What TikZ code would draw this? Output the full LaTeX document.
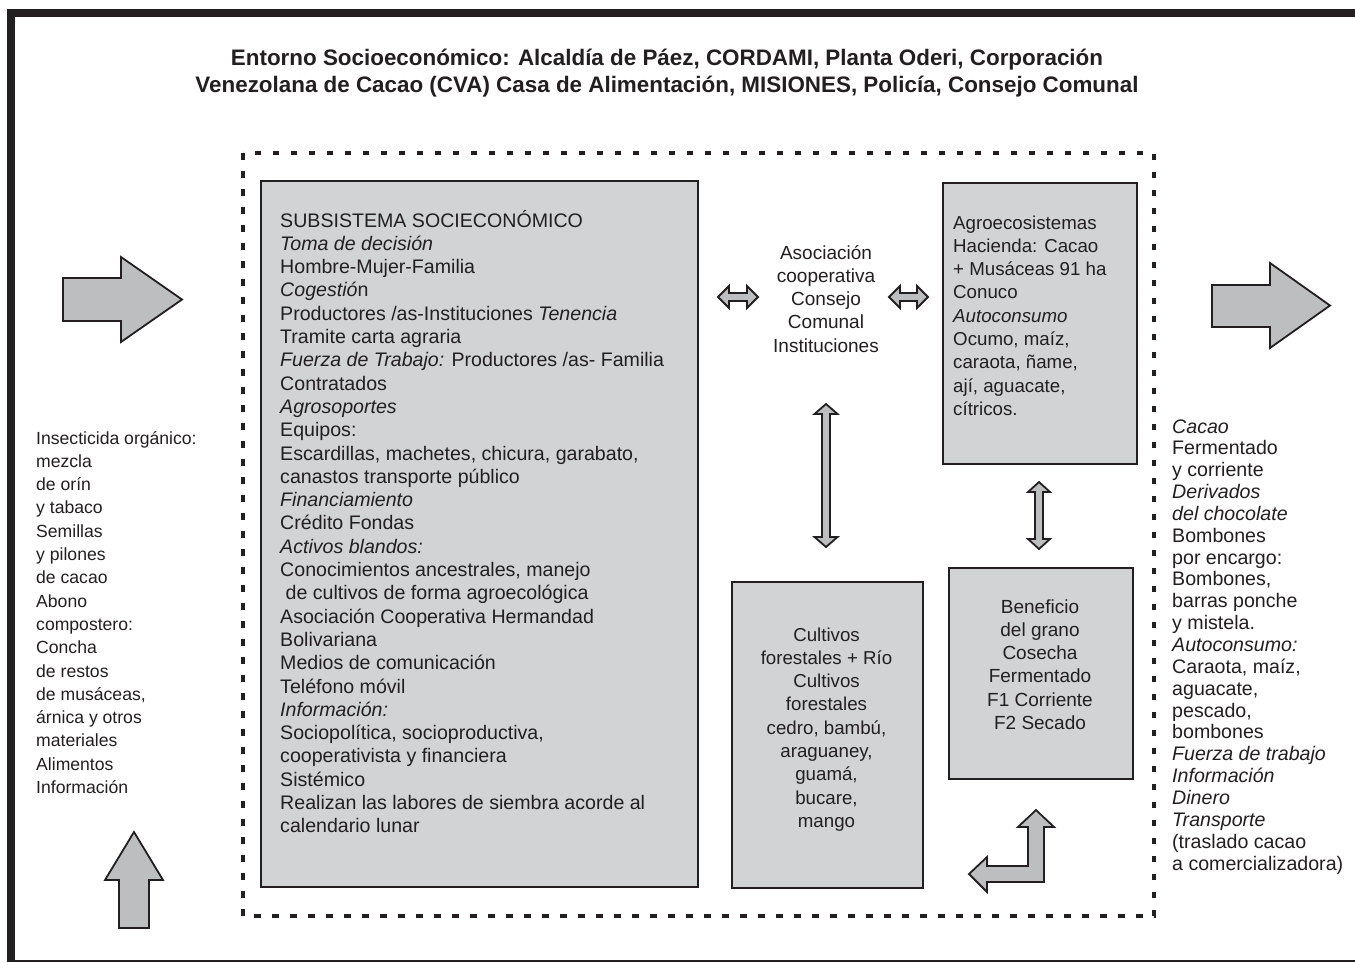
\documentclass[tikz,border=0pt]{standalone}
\usepackage{fontspec}
\setmainfont{Liberation Sans}
\definecolor{boxgray}{HTML}{D1D3D4}
\definecolor{arrgray}{HTML}{BCBEC0}
\definecolor{ink}{HTML}{231F20}
\begin{document}
\begin{tikzpicture}[x=1pt,y=-1pt,
  box/.style={draw=ink, line width=2pt, fill=boxgray, inner sep=0pt, anchor=north west},
  blockarrow/.style={draw=ink, line width=1.8pt, fill=arrgray, line join=miter},
  txt/.style={inner sep=0pt, text=ink, font=\fontsize{19}{23.3}\selectfont},
  frameline/.style={draw=ink},
 ]
\useasboundingbox (0,0) rectangle (1355,962);
\fill[white] (0,0) rectangle (1355,962);
% outer frame
\draw[frameline, line width=7.5pt] (11,962) -- (11,13) -- (1355,13);
\draw[frameline, line width=2pt] (7,960.5) -- (1355,960.5);
% title (anchor = baseline of last line)
\node[txt, font=\bfseries\fontsize{22.4}{27}\selectfont, align=center, anchor=base] (title) at (667,92)
 {Entorno Socioeconómico: Alcaldía de Páez, CORDAMI, Planta Oderi, Corporación\\
  Venezolana de Cacao (CVA) Casa de Alimentación, MISIONES, Policía, Consejo Comunal};
% dashed system boundary
\draw[ink, line width=3.5pt, dash pattern=on 6.5pt off 11.5pt] (243,153) rectangle (1154,916);
% boxes
\node[box, minimum width=437pt, minimum height=706pt] (sub) at (260,180) {};
\node[box, minimum width=194pt, minimum height=281pt] (agro) at (942,182) {};
\node[box, minimum width=184pt, minimum height=211pt] (bene) at (948,567) {};
\node[box, minimum width=191pt, minimum height=306pt] (cult) at (731,581) {};
% box texts
\node[txt, font=\fontsize{19.6}{23.3}\selectfont, align=left, anchor=base west] (subtxt) at (280,832.8) {SUBSISTEMA SOCIECONÓMICO\\
\textit{Toma de decisión}\\
Hombre-Mujer-Familia\\
\textit{Cogestió}n\\
Productores /as-Instituciones \textit{Tenencia}\\
Tramite carta agraria\\
\textit{Fuerza de Trabajo:} Productores /as- Familia\\
Contratados\\
\textit{Agrosoportes}\\
Equipos:\\
Escardillas, machetes, chicura, garabato,\\
canastos transporte público\\
\textit{Financiamiento}\\
Crédito Fondas\\
\textit{Activos blandos:}\\
Conocimientos ancestrales, manejo\\
\hspace*{0.28em}de cultivos de forma agroecológica\\
Asociación Cooperativa Hermandad\\
Bolivariana\\
Medios de comunicación\\
Teléfono móvil\\
\textit{Información:}\\
Sociopolítica, socioproductiva,\\
cooperativista y financiera\\
Sistémico\\
Realizan las labores de siembra acorde al\\
calendario lunar};
\node[txt, align=center, anchor=base] (asoc) at (826,352.2) {Asociación\\cooperativa\\Consejo\\Comunal\\Instituciones};
\node[txt, font=\fontsize{18.7}{23.3}\selectfont, align=left, anchor=base west] (agrotxt) at (953,415.4) {Agroecosistemas\\
Hacienda: Cacao\\
+ Musáceas 91 ha\\
Conuco\\
\textit{Autoconsumo}\\
Ocumo, maíz,\\
caraota, ñame,\\
ají, aguacate,\\
cítricos.};
\node[txt, font=\fontsize{18.7}{23.3}\selectfont, align=center, anchor=base] (culttxt) at (826.5,827.4) {Cultivos\\forestales + Río\\Cultivos\\forestales\\cedro, bambú,\\araguaney,\\guamá,\\bucare,\\mango};
\node[txt, align=center, anchor=base] (benetxt) at (1040,729.5) {Beneficio\\del grano\\Cosecha\\Fermentado\\F1 Corriente\\F2 Secado};
% inputs (left)
\node[txt, font=\fontsize{17.6}{23.3}\selectfont, align=left, anchor=base west] (inputs) at (36,793.5) {Insecticida orgánico:\\
mezcla\\
de orín\\
y tabaco\\
Semillas\\
y pilones\\
de cacao\\
Abono\\
compostero:\\
Concha\\
de restos\\
de musáceas,\\
árnica y otros\\
materiales\\
Alimentos\\
Información};
% outputs (right)
\node[txt, font=\fontsize{19.6}{21.85}\selectfont, align=left, anchor=base west] (outputs) at (1172,870) {\textit{Cacao}\\
Fermentado\\
y corriente\\
\textit{Derivados}\\
\textit{del chocolate}\\
Bombones\\
por encargo:\\
Bombones,\\
barras ponche\\
y mistela.\\
\textit{Autoconsumo:}\\
Caraota, maíz,\\
aguacate,\\
pescado,\\
bombones\\
\textit{Fuerza de trabajo}\\
\textit{Información}\\
\textit{Dinero}\\
\textit{Transporte}\\
(traslado cacao\\
a comercializadora)};
% block arrows
\draw[blockarrow] (63,278) -- (121,278) -- (121,257) -- (182,299.5) -- (121,342) -- (121,321) -- (63,321) -- cycle;
\draw[blockarrow] (1212,285) -- (1270,285) -- (1270,263) -- (1330,305.5) -- (1270,348) -- (1270,327) -- (1212,327) -- cycle;
\draw[blockarrow] (119,928) -- (119,880) -- (105,880) -- (134,832) -- (163,880) -- (149,880) -- (149,928) -- cycle;
% double arrows
\draw[blockarrow] (718,297) -- (729,286) -- (729,293) -- (747,293) -- (747,286) -- (758,297) -- (747,308) -- (747,301) -- (729,301) -- (729,308) -- cycle;
\draw[blockarrow] (889,297) -- (900,286) -- (900,293) -- (917,293) -- (917,286) -- (928,297) -- (917,308) -- (917,301) -- (900,301) -- (900,308) -- cycle;
\draw[blockarrow] (826,404) -- (837.5,414) -- (830,414) -- (830,537) -- (837.5,537) -- (826,547) -- (814.5,537) -- (822,537) -- (822,414) -- (814.5,414) -- cycle;
\draw[blockarrow] (1039,482) -- (1050,492) -- (1043,492) -- (1043,539) -- (1050,539) -- (1039,549) -- (1028,539) -- (1035,539) -- (1035,492) -- (1028,492) -- cycle;
% bent arrow
\draw[blockarrow] (969,874) -- (987,857) -- (987,866) -- (1028,866) -- (1028,827) -- (1018,827) -- (1036,810) -- (1054,827) -- (1044,827) -- (1044,882) -- (987,882) -- (987,892) -- cycle;
\end{tikzpicture}
\end{document}
